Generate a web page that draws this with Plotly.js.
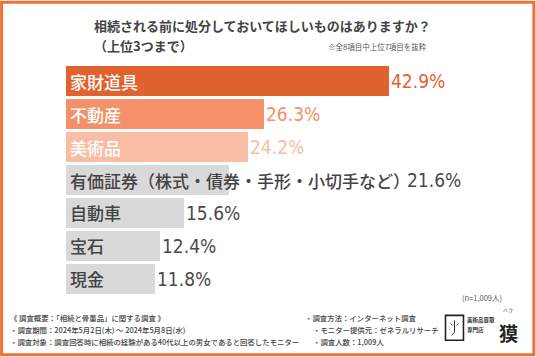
<!DOCTYPE html>
<html><head><meta charset="utf-8">
<script src="https://cdn.plot.ly/plotly-3.0.1.min.js"></script>
<style>html,body{margin:0;padding:0;background:#fff}#chart{width:536px;height:357px}</style>
</head><body><div id="chart"></div>
<script>
// ---- data ----
const categories = ["家財道具","不動産","美術品","有価証券（株式・債券・手形・小切手など）","自動車","宝石","現金"];
const values = [42.9, 26.3, 24.2, 21.6, 15.6, 12.4, 11.8];
const valueLabels = ["42.9%","26.3%","24.2%","21.6%","15.6%","12.4%","11.8%"];
const titleLine1 = "相続される前に処分しておいてほしいものはありますか？";
const titleLine2 = "（上位3つまで）";
const noteText = "※全8項目中上位7項目を抜粋";
const sampleText = "(n=1,009人)";
const footerLeft = ["《 調査概要：「相続と骨董品」に関する調査 》","・調査期間：2024年5月2日(木) 〜 2024年5月8日(水)","・調査対象：調査回答時に相続の経験がある40代以上の男女であると回答したモニター"];
const footerRight = ["・調査方法：インターネット調査","・モニター提供元：ゼネラルリサーチ","・調査人数：1,009人"];

// ---- style ----
const barColors = ["#E2622F","#F4906A","#F9BCA4","#D9D9D9","#D9D9D9","#D9D9D9","#D9D9D9"];
const nameColors = ["#ffffff","#ffffff","#ffffff","#444444","#444444","#444444","#444444"];
const valColors = ["#E2622F","#F4906A","#F9BCA4","#4a4a4a","#4a4a4a","#4a4a4a","#4a4a4a"];
const W = 536, H = 357;
const M = {l:66, r:92.5, t:64.5, b:61.5};
const xMax = 50;
const plotW = W - M.l - M.r, plotH = H - M.t - M.b;
const px = x => (x - M.l) / plotW;
const py = y => 1 - (y - M.t) / plotH;
const JP = "'Noto Sans CJK JP', 'Noto Sans', sans-serif";
const NUM = "'Liberation Sans Narrow', 'DejaVu Sans Condensed', 'Arial Narrow', sans-serif";
const nameSize = 17;

const cv = document.createElement('canvas').getContext('2d');
cv.font = "500 " + nameSize + "px 'Noto Sans CJK JP'";
const pxPerUnit = plotW / xMax;

const annotations = [];
categories.forEach((c, i) => {
  annotations.push({x:0, y:c, xref:'x', yref:'y', text:c, showarrow:false, borderpad:0,
    xanchor:'left', xshift:3, font:{family:JP, size:nameSize, weight:500, color:nameColors[i]}});
  const nameW = cv.measureText(c).width;
  const barPx = values[i] * pxPerUnit;
  const shift = nameW > barPx ? (nameW - barPx) : 1;
  annotations.push({x:values[i], y:c, xref:'x', yref:'y', text:valueLabels[i], showarrow:false, borderpad:0,
    xanchor:'left', xshift:shift, font:{family:NUM, size:19, weight:500, color:valColors[i]}});
});
annotations.push({x:px(92), y:py(25), xref:'paper', yref:'paper', text:'<b>'+titleLine1+'</b>', showarrow:false, xanchor:'left', yanchor:'middle', font:{family:JP, size:13, color:'#444'}});
annotations.push({x:px(92), y:py(45), xref:'paper', yref:'paper', text:'<b>'+titleLine2+'</b>', showarrow:false, xanchor:'left', yanchor:'middle', font:{family:JP, size:13, color:'#444'}});
annotations.push({x:px(429), y:py(46), xref:'paper', yref:'paper', text:noteText, showarrow:false, xanchor:'right', yanchor:'middle', font:{family:JP, size:7.5, color:'#555'}});
annotations.push({x:px(505), y:py(298), xref:'paper', yref:'paper', text:sampleText, showarrow:false, xanchor:'right', yanchor:'middle', font:{family:JP, size:7.5, color:'#555'}});
const fy = [318, 330, 342];
footerLeft.forEach((t, i) => annotations.push({x:px(9), y:py(fy[i]), xref:'paper', yref:'paper', text:t, showarrow:false, xanchor:'left', yanchor:'middle', borderpad:0, font:{family:JP, size:7.4, weight:500, color:'#444'}}));
const fx = [304, 312, 312];
footerRight.forEach((t, i) => annotations.push({x:px(fx[i]), y:py(fy[i]), xref:'paper', yref:'paper', text:t, showarrow:false, xanchor:'left', yanchor:'middle', borderpad:0, font:{family:JP, size:7.4, weight:500, color:'#444'}}));
// logo text
annotations.push({x:px(467), y:py(321), xref:'paper', yref:'paper', text:'<b>美術品買取</b>', showarrow:false, xanchor:'left', yanchor:'middle', borderpad:0, font:{family:JP, size:5.5, color:'#333'}});
annotations.push({x:px(467), y:py(331), xref:'paper', yref:'paper', text:'<b>専門店</b>', showarrow:false, xanchor:'left', yanchor:'middle', borderpad:0, font:{family:JP, size:5.5, color:'#333'}});
annotations.push({x:px(509), y:py(333), xref:'paper', yref:'paper', text:'<b>獏</b>', showarrow:false, xanchor:'center', yanchor:'middle', borderpad:0, font:{family:JP, size:19, color:'#222'}});
annotations.push({x:px(509), y:py(316), xref:'paper', yref:'paper', text:'バ ク', showarrow:false, xanchor:'center', yanchor:'bottom', borderpad:0, font:{family:JP, size:4.5, color:'#333'}});

const shapes = [
  {type:'rect', xref:'paper', yref:'paper', x0:px(1.5), x1:px(534.5), y0:py(1.5), y1:py(355.5), line:{color:'#E8733A', width:3}, layer:'below'},
  // logo face
  {type:'rect', xref:'paper', yref:'paper', x0:px(446), x1:px(464), y0:py(341), y1:py(316), line:{color:'#222', width:1.6}, fillcolor:'rgba(0,0,0,0)'},
  {type:'path', xref:'paper', yref:'paper', line:{color:'#333', width:1},
   path:`M ${px(451)},${py(324)} L ${px(453)},${py(326)} M ${px(459)},${py(324)} L ${px(457)},${py(326)} M ${px(455)},${py(321)} L ${px(455)},${py(333)} L ${px(452)},${py(336)}`}
];

const trace = {type:'bar', orientation:'h', y:categories, x:values, width:0.91,
  marker:{color:barColors, line:{width:0}}, hoverinfo:'skip'};

const layout = {width:W, height:H, margin:M, paper_bgcolor:'#fff', plot_bgcolor:'#fff', showlegend:false,
  xaxis:{range:[0, xMax], visible:false, fixedrange:true},
  yaxis:{type:'category', autorange:'reversed', visible:false, fixedrange:true},
  annotations, shapes, bargap:0};
Plotly.newPlot('chart', [trace], layout, {displayModeBar:false, staticPlot:true});
</script></body></html>
